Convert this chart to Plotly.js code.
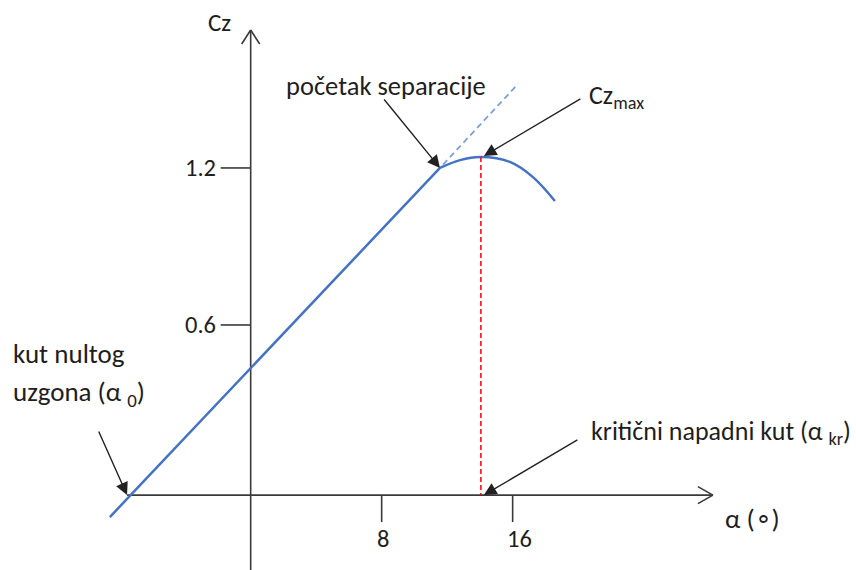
<!DOCTYPE html>
<html>
<head>
<meta charset="utf-8">
<script src="https://cdn.plot.ly/plotly-3.0.1.min.js"></script>
<style>html,body{margin:0;padding:0;background:#fff;}#chart{width:856px;height:570px;}</style>
</head>
<body>
<div id="chart"></div>
<script>
// ---- data (schematic lift curve) ----
const alphaLine = [-8.6, 11.56];
const czLine = [-0.134, 1.2];
const alphaArc = [11.56, 12.78, 14.06, 15.83, 17.24, 18.58];
const czArc = [1.200, 1.230, 1.242, 1.223, 1.165, 1.074];
const alphaExt = [11.75, 16.33];
const czExt = [1.213, 1.521];
const alphaCrit = 14.06;
const czMax = 1.242;
const alphaSep = 11.56;
const czSep = 1.2;
const alpha0 = -7.55;
const axisCz = -0.05;      // level where the α axis is drawn
const alphaAxisEnd = 28.23;
const czAxisTop = 1.727;
const czAxisBottom = -0.34;
const xTickVals = [8, 16];
const xTickText = ['8', '16'];
const yTickVals = [0.6, 1.2];
const yTickText = ['0.6', '1.2'];

const FONT = 'Carlito, Lato, "Open Sans", sans-serif';
const TXT = '#1e1e1e';
const AX = '#3a3a3a';

const traces = [
  {x: alphaLine, y: czLine, mode: 'lines', line: {color: '#4472C4', width: 2.5}, hoverinfo: 'skip'},
  {x: alphaArc, y: czArc, mode: 'lines', line: {color: '#4472C4', width: 2.5, shape: 'spline', smoothing: 1}, hoverinfo: 'skip'},
  {x: alphaExt, y: czExt, mode: 'lines', line: {color: '#7F9FD6', width: 1.8, dash: '6px,4px'}, hoverinfo: 'skip'},
  {x: [alphaCrit, alphaCrit], y: [czMax, axisCz], mode: 'lines', line: {color: '#FF0000', width: 1.5, dash: '5px,3px'}, hoverinfo: 'skip'}
];

const shapes = [];
const axLine = {color: AX, width: 1.6};
// axes
shapes.push({type: 'line', xref: 'x', yref: 'y', x0: alpha0, x1: alphaAxisEnd, y0: axisCz, y1: axisCz, line: axLine, layer: 'below'});
shapes.push({type: 'line', xref: 'x', yref: 'y', x0: 0, x1: 0, y0: czAxisBottom, y1: czAxisTop, line: axLine, layer: 'below'});
// arrow chevrons
[8.5, -8.5].forEach(d => shapes.push({type: 'line', xref: 'x', yref: 'y', xsizemode: 'pixel', ysizemode: 'pixel',
  xanchor: alphaAxisEnd, yanchor: axisCz, x0: 0, y0: 0, x1: -15, y1: d, line: axLine}));
[9, -9].forEach(d => shapes.push({type: 'line', xref: 'x', yref: 'y', xsizemode: 'pixel', ysizemode: 'pixel',
  xanchor: 0, yanchor: czAxisTop, x0: 0, y0: 0, x1: d, y1: -14, line: axLine}));
// ticks
yTickVals.forEach(v => shapes.push({type: 'line', xref: 'x', yref: 'y', xsizemode: 'pixel', xanchor: 0,
  x0: -30, x1: 0, y0: v, y1: v, line: axLine}));
xTickVals.forEach(v => shapes.push({type: 'line', xref: 'x', yref: 'y', ysizemode: 'pixel', yanchor: axisCz,
  x0: v, x1: v, y0: 0, y1: -27, line: axLine}));

const annotations = [];
const tf = {family: FONT, size: 24.5, color: TXT};
yTickVals.forEach((v, i) => annotations.push({x: 0, y: v, xref: 'x', yref: 'y', text: yTickText[i],
  showarrow: false, xanchor: 'right', yanchor: 'middle', xshift: -33, font: tf}));
const xLabShift = [1, 7];
xTickVals.forEach((v, i) => annotations.push({x: v, y: axisCz, xref: 'x', yref: 'y', text: xTickText[i],
  showarrow: false, xanchor: 'center', yanchor: 'middle', yshift: -44, xshift: xLabShift[i], font: tf}));

// axis titles
annotations.push({xref: 'paper', yref: 'paper', x: 220 / 856, y: 1 - 22 / 570, text: 'Cz', showarrow: false,
  xanchor: 'center', yanchor: 'middle', font: {family: FONT, size: 25, color: TXT}});
annotations.push({xref: 'paper', yref: 'paper', x: 752 / 856, y: 1 - 518 / 570, text: 'α (∘)', showarrow: false,
  xanchor: 'center', yanchor: 'middle', font: {family: FONT, size: 27, color: TXT}});

// labels
const lf = {family: FONT, size: 27, color: TXT};
annotations.push({xref: 'paper', yref: 'paper', x: 284 / 856, y: 1 - 86 / 570, text: 'početak separacije',
  showarrow: false, xanchor: 'left', yanchor: 'middle', font: {family: FONT, size: 26.5, color: TXT}});
annotations.push({xref: 'paper', yref: 'paper', x: 587 / 856, y: 1 - 97 / 570, text: 'Cz<sub>max</sub>',
  showarrow: false, xanchor: 'left', yanchor: 'middle', font: {family: FONT, size: 26, color: TXT}});
annotations.push({xref: 'paper', yref: 'paper', x: 11 / 856, y: 1 - 353 / 570, text: 'kut nultog',
  showarrow: false, xanchor: 'left', yanchor: 'middle', font: lf});
annotations.push({xref: 'paper', yref: 'paper', x: 11 / 856, y: 1 - 393 / 570, text: 'uzgona (α <sub>0</sub>)',
  showarrow: false, xanchor: 'left', yanchor: 'middle', font: lf});
annotations.push({xref: 'paper', yref: 'paper', x: 589 / 856, y: 1 - 432 / 570, text: 'kritični napadni kut (α <sub>kr</sub>)',
  showarrow: false, xanchor: 'left', yanchor: 'middle', font: {family: FONT, size: 26, color: TXT}});

// pointer arrows
const arr = {showarrow: true, text: '', arrowhead: 2, arrowsize: 1.8, arrowwidth: 1.4, arrowcolor: '#222', standoff: 0, startstandoff: 0, xref: 'x', yref: 'y'};
annotations.push(Object.assign({}, arr, {x: alphaSep, y: czSep, ax: -57, ay: -70}));
annotations.push(Object.assign({}, arr, {x: alphaCrit, y: czMax, xshift: 3, yshift: 1, ax: 98, ay: -58}));
annotations.push(Object.assign({}, arr, {x: alpha0, y: axisCz, ax: -29, ay: -65}));
annotations.push(Object.assign({}, arr, {x: alphaCrit, y: axisCz, xshift: 3, ax: 95, ay: -56}));

const layout = {
  width: 856, height: 570,
  margin: {l: 0, r: 0, t: 0, b: 0},
  paper_bgcolor: '#ffffff', plot_bgcolor: '#ffffff',
  showlegend: false,
  xaxis: {range: [-15.31, 36.97], visible: false, fixedrange: true},
  yaxis: {range: [-0.3363, 1.8418], visible: false, fixedrange: true},
  shapes: shapes,
  annotations: annotations
};
Plotly.newPlot('chart', traces, layout, {staticPlot: true, displayModeBar: false});
</script>
</body>
</html>
